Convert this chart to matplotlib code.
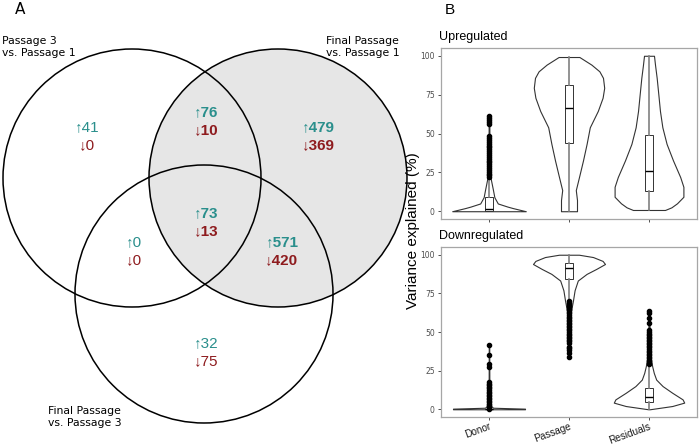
# -*- coding: utf-8 -*-
import numpy as np
import matplotlib
matplotlib.use('Agg')
import matplotlib.pyplot as plt
from matplotlib.patches import Circle


# %% data ---------------------------------------------------------------------

# Venn regions: P3vsP1 only, P3&FP1, FP1 only, P3&FP3, all three, FP1&FP3, FP3 only
venn_up = [41, 76, 479, 0, 73, 571, 32]
venn_down = [0, 10, 369, 0, 13, 420, 75]
venn_bold = [False, True, True, False, True, True, False]
set_names = ['Passage 3\nvs. Passage 1',
             'Final Passage\nvs. Passage 1',
             'Final Passage\nvs. Passage 3']

cats = ['Donor', 'Passage', 'Residuals']

# violin profiles (value, half width)
up_vy = [[0, 1, 2, 3, 5, 9, 13.6, 20, 25, 35, 61],
         [0, 3, 7.2, 13.6, 22, 32.7, 43.3, 54, 64.5, 73, 79.4, 85.8, 90, 94.3, 99.2],
         [0.8, 2.5, 5.1, 9.3, 15.7, 22, 32.7, 43.3, 54, 64.5, 75, 85.8, 94.3, 100]]
up_vw = [[0.46, 0.38, 0.30, 0.23, 0.11, 0.067, 0.05, 0.025, 0.012, 0.006, 0.004],
         [0.10, 0.10, 0.10, 0.085, 0.125, 0.175, 0.22, 0.26, 0.36, 0.42, 0.44, 0.425, 0.38, 0.28, 0.13],
         [0.20, 0.28, 0.35, 0.43, 0.43, 0.39, 0.30, 0.22, 0.167, 0.137, 0.117, 0.096, 0.075, 0.0625]]
dn_vy = [[0, 0.4, 1, 3, 10, 20, 42],
         [34, 50, 60, 70.5, 77, 83.3, 87.6, 90.8, 94, 96, 98.5, 100],
         [0, 2.1, 4.3, 6.4, 10.7, 15, 19.2, 23.5, 27.8, 35, 50, 63.5]]
dn_vw = [[0.45, 0.45, 0.05, 0.01, 0.005, 0.004, 0.003],
         [0.004, 0.008, 0.012, 0.05, 0.07, 0.11, 0.22, 0.34, 0.45, 0.42, 0.30, 0.125],
         [0.01, 0.29, 0.44, 0.42, 0.29, 0.17, 0.09, 0.06, 0.04, 0.015, 0.008, 0.004]]

# box stats: lower whisker, q1, median, q3, upper whisker
up_box = [[0, 0, 1.5, 9, 21],
          [0, 43.7, 66.5, 81.5, 99],
          [0.8, 12.9, 25.9, 49.2, 100]]
dn_box = [[0, 0, 0, 0.3, 0.5],
          [70.5, 84.5, 91.5, 94.5, 100],
          [0, 4.5, 8, 13.9, 28]]

up_out = [[22, 23, 24.2, 25.4, 26.6, 27.8, 29, 30.2, 31.4, 32.6, 33.8, 35, 36.2,
           37.4, 38.6, 39.8, 41, 42.2, 43.4, 44.6, 45.8, 47, 48.5, 56, 57.5, 59,
           60, 61],
          [],
          []]
dn_out = [[0.5, 1.5, 2.5, 3.5, 4.5, 5.5, 6.5, 7.5, 8.5, 9.5, 10.5, 11.5, 12.5,
           13.5, 14.5, 15.5, 16.5, 17.5, 27.4, 29.5, 35, 41.7],
          [70, 69, 68, 67, 66, 65, 64, 63, 62, 61, 60, 59, 58, 57, 56, 55, 54, 53,
           52, 51, 50, 49, 48, 47, 46, 45, 44, 43, 40.6, 39.5, 38.5, 36.5, 34],
          [29, 30, 31, 32, 33, 34, 35, 36, 37, 38, 39, 40, 41, 42, 43, 44, 45, 46,
           47, 48, 49, 50, 51, 55.6, 59, 62, 63.7]]


# %% figure -------------------------------------------------------------------

fig = plt.figure(figsize=(7.0, 4.45), dpi=100)

#------------------ panel A (pixel coordinates)
axA = fig.add_axes([0, 0, 1, 1])
axA.set_xlim(0, 700)
axA.set_ylim(445, 0)
axA.axis('off')

circ_xy = [(132, 178), (278, 178), (204, 294)]
circ_r = 129

axA.add_patch(Circle(circ_xy[1], circ_r, facecolor='#e6e6e6', edgecolor='none'))
for c in circ_xy:
    axA.add_patch(Circle(c, circ_r, facecolor='none', edgecolor='black', lw=1.1))

reg_xy = [(87, 127), (206, 112), (318, 127), (134, 242),
          (206, 213), (282, 242), (206, 343)]
fam = ['Liberation Sans', 'DejaVu Sans']
for (x, y), u, d, b in zip(reg_xy, venn_up, venn_down, venn_bold):
    fw = 'bold' if b else 'normal'
    axA.text(x, y, u'\u2191' + str(u), ha='center', va='center', fontsize=11,
             color='#2a8f8c', fontweight=fw, family=fam)
    axA.text(x, y + 18, u'\u2193' + str(d), ha='center', va='center', fontsize=11,
             color='#8e1b1e', fontweight=fw, family=fam)

axA.text(2, 36, set_names[0], ha='left', va='top', fontsize=7.8, linespacing=1.3)
axA.text(326, 36, set_names[1], ha='left', va='top', fontsize=7.8, linespacing=1.3)
axA.text(48, 406, set_names[2], ha='left', va='top', fontsize=7.8, linespacing=1.3)
axA.text(15, 9, 'A', ha='left', va='center', fontsize=11)

#------------------ panel B
fig.text(445 / 700, 1 - 10 / 445, 'B', ha='left', va='center', fontsize=11,
         family='Liberation Sans')

ax0 = fig.add_axes([441 / 700, 1 - 219 / 445, 256 / 700, 171 / 445])
ax1 = fig.add_axes([441 / 700, 1 - 417 / 445, 256 / 700, 170 / 445])

def draw_panel(ax, vy, vw, box, outl, title):
    for i in range(len(cats)):
        y = np.array(vy[i])
        w = np.array(vw[i])
        ax.fill_betweenx(y, i + 1 - w, i + 1 + w, facecolor='white',
                         edgecolor='#333333', lw=0.8, zorder=2)
    stats = []
    for b, o in zip(box, outl):
        stats.append(dict(whislo=b[0], q1=b[1], med=b[2], q3=b[3], whishi=b[4],
                          fliers=o))
    ax.bxp(stats, positions=[1, 2, 3], widths=0.1, patch_artist=True,
           showcaps=False, manage_ticks=False,
           boxprops=dict(facecolor='white', edgecolor='#333333', lw=0.7),
           whiskerprops=dict(color='#808080', lw=1.2),
           medianprops=dict(color='black', lw=1.0),
           flierprops=dict(marker='o', markerfacecolor='black',
                           markeredgecolor='black', markersize=3.0),
           zorder=3)
    ax.set_xlim(0.4, 3.6)
    ax.set_ylim(-5, 105)
    ax.set_yticks([0, 25, 50, 75, 100])
    ax.set_xticks([1, 2, 3])
    ax.tick_params(axis='both', colors='#333333', labelcolor='#4d4d4d',
                   labelsize=5.5, length=2.5, width=0.6, pad=2)
    for s in ax.spines.values():
        s.set_color('#a6a6a6')
        s.set_linewidth(0.9)
    ax.set_title(title, loc='left', fontsize=9, pad=6, x=-0.006,
                 family='Liberation Sans')

draw_panel(ax0, up_vy, up_vw, up_box, up_out, 'Upregulated')
draw_panel(ax1, dn_vy, dn_vw, dn_box, dn_out, 'Downregulated')

ax0.set_xticklabels([])
ax1.set_xticklabels(cats, rotation=20, ha='right', rotation_mode='anchor',
                    fontsize=7.2, color='#1a1a1a', family='Liberation Sans')
ax1.tick_params(axis='x', pad=1.0, length=2)

fig.text(413 / 700, 1 - 231 / 445, 'Variance explained (%)', rotation=90,
         ha='center', va='center', fontsize=11, family='Liberation Sans')

plt.savefig('out.png', dpi=100)
